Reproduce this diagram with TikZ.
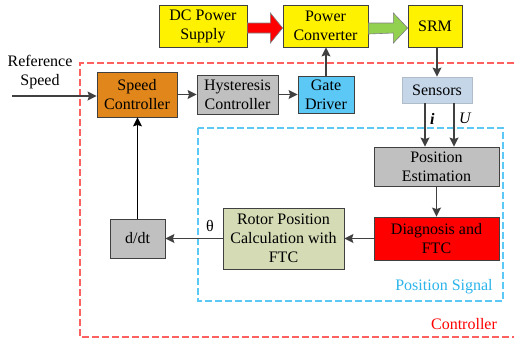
\documentclass[tikz,border=0pt]{standalone}
\usepackage{fontspec}
\setmainfont{Liberation Serif}
\usepackage{xcolor}
\usepackage{tikz}
\usetikzlibrary{positioning,arrows.meta,calc}

\definecolor{linegray}{HTML}{404040}
\definecolor{boxgray}{HTML}{C0C0C0}
\definecolor{spdorange}{HTML}{E0861A}
\definecolor{gateblue}{HTML}{5BC8F5}
\definecolor{sensblue}{HTML}{C6D6E9}
\definecolor{rotorgreen}{HTML}{D4DBB5}
\definecolor{arrowgreen}{HTML}{92D050}
\definecolor{sigblue}{HTML}{5BC8F5}
\definecolor{sigtext}{HTML}{2AB4EA}
\definecolor{ctrlred}{HTML}{FF6060}

\tikzset{
  blk/.style={draw=linegray, line width=0.8pt, align=center, inner sep=1pt},
  flow/.style={draw=linegray, line width=1.4pt, -{Stealth[length=9pt,width=9pt,inset=1.5pt]}},
  bigarrow/.style={draw=gray, line width=0.6pt},
  frame/.style={line width=1.3pt, dash pattern=on 7pt off 3pt},
}

\begin{document}
\begin{tikzpicture}[x=1pt, y=-1pt, font=\fontsize{16}{19}\selectfont]
\useasboundingbox (0,0) rectangle (514,341);

% Outer frames
\draw[frame, ctrlred] (514,63) -- (80,63) -- (80,337) -- (514,337);
\draw[frame, sigblue] (198,128) rectangle (503,301);
\node[text=sigtext] (siglbl) at (444,287) {Position Signal};
\node[text=red] (ctrllbl) at (464,324) {Controller};

% Power stage
\node[blk, fill=yellow, minimum width=88pt, minimum height=42pt] (dc) at (203,26) {DC Power\\Supply};
\node[blk, fill=yellow, minimum width=85pt, minimum height=42pt] (pc) at (325.5,26) {Power\\Converter};
\node[blk, fill=yellow, minimum width=54pt, minimum height=42pt] (srm) at (435,26) {SRM};

\draw[bigarrow, fill=red] ($(dc.east)+(0,-3)$) -- ++(23,0) -- ++(0,-10) -- ($(pc.west)+(0,2)$)
  -- ($(dc.east)+(23,17)$) -- ++(0,-10) -- ($(dc.east)+(0,7)$) -- cycle;
\draw[bigarrow, fill=arrowgreen] ($(pc.east)+(0,-3)$) -- ++(25,0) -- ++(0,-10) -- ($(srm.west)+(0,2)$)
  -- ($(pc.east)+(25,17)$) -- ++(0,-10) -- ($(pc.east)+(0,8)$) -- cycle;

% Control chain
\node[blk, fill=spdorange, minimum width=80pt, minimum height=45pt] (speed) at (137,94.5) {Speed\\Controller};
\node[blk, fill=boxgray, minimum width=81pt, minimum height=39pt] (hyst) at (237.5,94.5) {Hysteresis\\Controller};
\node[blk, fill=gateblue, minimum width=56pt, minimum height=37pt] (gate) at (326,94.5) {Gate\\Driver};
\node[draw=sensblue!70!gray, fill=sensblue, line width=0.8pt, minimum width=70pt, minimum height=26pt] (sensors) at (437,90) {Sensors};

\node[align=center] (ref) at (40,72) {Reference\\Speed};
\coordinate (refin) at (12,96);

% Position signal blocks
\node[blk, fill=boxgray, minimum width=125pt, minimum height=39pt] (posest) at (436.5,166.5) {Position\\Estimation};
\node[blk, fill=red, minimum width=125pt, minimum height=43pt] (diag) at (436.5,238.5) {Diagnosis and\\FTC};
\node[blk, fill=rotorgreen, minimum width=121pt, minimum height=61pt] (rotor) at (283.5,238.5) {Rotor Position\\Calculation with\\FTC};
\node[blk, fill=boxgray, minimum width=55pt, minimum height=39pt] (ddt) at (137.5,238.5) {d/dt};

% Sensor signal taps
\coordinate (itop) at ($(sensors.south)+(-12,0)$);
\coordinate (utop) at ($(sensors.south)+(17,0)$);

% Connections
\draw[flow] (refin) -- (refin -| speed.west);
\draw[flow] (speed.east |- hyst) -- (hyst.west);
\draw[flow] (hyst.east) -- (gate.west);
\draw[flow] (gate.north) -- (pc.south -| gate.north);
\draw[flow] (srm.south -| sensors.north) -- (sensors.north);
\draw[flow] (itop) -- (itop |- posest.north) node[pos=0.35, right=1pt] {\textbf{\textit{i}}};
\draw[flow] (utop) -- (utop |- posest.north) node[pos=0.35, right=1pt] {\textit{U}};
\draw[flow] (posest.south) -- (diag.north);
\draw[flow] (diag.west) -- (rotor.east |- diag.west);
\draw[flow] (rotor.west |- ddt.east) -- (ddt.east) node[pos=0.22, above=3pt] (theta) {θ};
\draw[flow, black, line width=1pt] (ddt.north) -- (speed.south -| ddt.north);
\end{tikzpicture}
\end{document}
